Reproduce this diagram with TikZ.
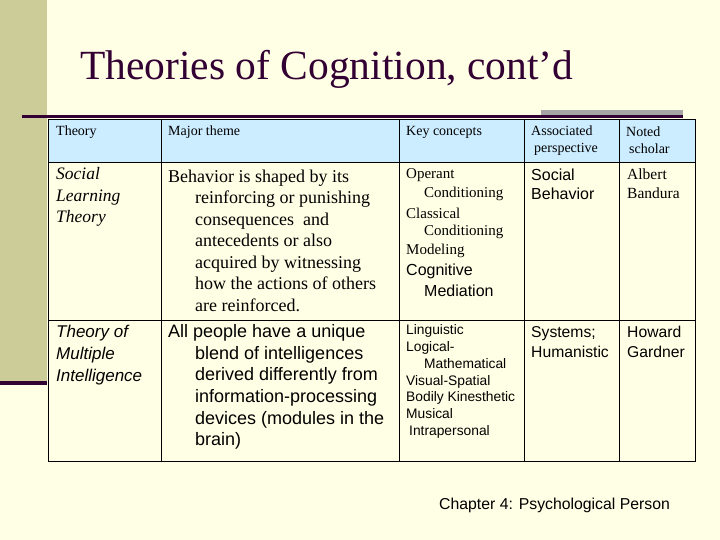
\documentclass[tikz,border=0pt]{standalone}
\usepackage{fontspec}
\setmainfont{Liberation Serif}
\setsansfont{Liberation Sans}
\begin{document}
\begin{tikzpicture}[x=1pt,y=-1pt,
  sr/.style={anchor=west,inner sep=0pt,font=\fontsize{12}{14}\selectfont},
  ss/.style={anchor=west,inner sep=0pt,font=\sffamily\fontsize{12.5}{14}\selectfont},
  hd/.style={anchor=west,inner sep=0pt,font=\fontsize{14}{17}\selectfont},
  kc/.style={anchor=west,inner sep=0pt,font=\fontsize{15}{17}\selectfont},
  grid/.style={draw=black,line width=1pt}]
\definecolor{bg}{HTML}{FFFFE6}
\definecolor{side}{HTML}{CCCC99}
\definecolor{dk}{HTML}{330033}
\definecolor{hdr}{HTML}{CCECFF}
\useasboundingbox (0,0) rectangle (720,540);
\fill[bg] (0,0) rectangle (720,540);
\fill[side] (0,0) rectangle (47,383);
\fill[dk] (0,381) rectangle (47,385);
\fill[gray!70] (541,110) rectangle (683,118);
\fill[dk] (22,115) rectangle (683,118);
\node[anchor=west,inner sep=0pt,text=dk,font=\fontsize{41.5}{46}\selectfont] (title) at (80,69) {Theories of Cognition, cont’d};
% table
\fill[hdr] (48,120) rectangle (695,163);
\draw[grid] (48,120) rectangle (695,461);
\draw[grid] (48,163) -- (695,163) (48,320) -- (695,320);
\foreach \x in {161,399,524,619} \draw[grid] (\x,120) -- (\x,461);
% header
\node[hd] (h1) at (56,132) {Theory};
\node[hd] (h2) at (168,132) {Major theme};
\node[hd] (h3) at (406,132) {Key concepts};
\node[hd,align=left] (h4) at (531,140.5) {Associated\\\hspace*{3pt}perspective};
\node[hd,align=left] (h5) at (626,140.5) {Noted\\\hspace*{3pt}scholar};
% row 2
\node[sr,align=left,font=\itshape\fontsize{17.5}{21.5}\selectfont] (t2) at (56,197) {Social\\Learning\\Theory};
\node[sr,align=left,font=\fontsize{18}{21.5}\selectfont] (m2) at (168,240.5) {Behavior is shaped by its\\
\hspace*{27pt}reinforcing or punishing\\\hspace*{27pt}consequences~ and\\\hspace*{27pt}antecedents or also\\
\hspace*{27pt}acquired by witnessing\\\hspace*{27pt}how the actions of others\\\hspace*{27pt}are reinforced.};
\node[kc] (k1) at (406,175) {Operant};
\node[kc] (k2) at (424,194) {Conditioning};
\node[kc] (k3) at (406,213) {Classical};
\node[kc] (k4) at (424,232) {Conditioning};
\node[kc] (k5) at (406,251) {Modeling};
\node[ss,font=\sffamily\fontsize{16}{17}\selectfont] (k6) at (406,271) {Cognitive};
\node[ss,font=\sffamily\fontsize{16}{17}\selectfont] (k7) at (424,291) {Mediation};
\node[ss,align=left,font=\sffamily\fontsize{16}{19}\selectfont] (p2) at (531,184) {Social\\Behavior};
\node[kc,align=left,font=\fontsize{15.5}{19}\selectfont] (s2) at (627,184) {Albert\\Bandura};
% row 3
\node[ss,align=left,font=\sffamily\itshape\fontsize{17}{22}\selectfont] (t3) at (56,355) {Theory of\\Multiple\\Intelligence};
\node[ss,align=left,font=\sffamily\fontsize{18}{21.7}\selectfont] (m3) at (168,387) {All people have a unique\\
\hspace*{27pt}blend of intelligences\\\hspace*{27pt}derived differently from\\\hspace*{27pt}information-processing\\
\hspace*{27pt}devices (modules in the\\\hspace*{27pt}brain)};
\node[ss,align=left,font=\sffamily\fontsize{13.8}{16.8}\selectfont] (k8) at (406,381.5) {Linguistic\\Logical-\\\hspace*{18pt}Mathematical\\Visual-Spatial\\Bodily Kinesthetic\\Musical\\\hspace*{3pt}Intrapersonal};
\node[ss,align=left,font=\sffamily\fontsize{15.7}{20}\selectfont] (p3) at (531,342) {Systems;\\Humanistic};
\node[ss,align=left,font=\sffamily\fontsize{15.7}{20}\selectfont] (s3) at (627,342) {Howard\\Gardner};
\node[anchor=west,inner sep=0pt,font=\sffamily\fontsize{15.8}{18}\selectfont] (foot) at (439,505) {Chapter 4: Psychological Person};
\end{tikzpicture}
\end{document}
